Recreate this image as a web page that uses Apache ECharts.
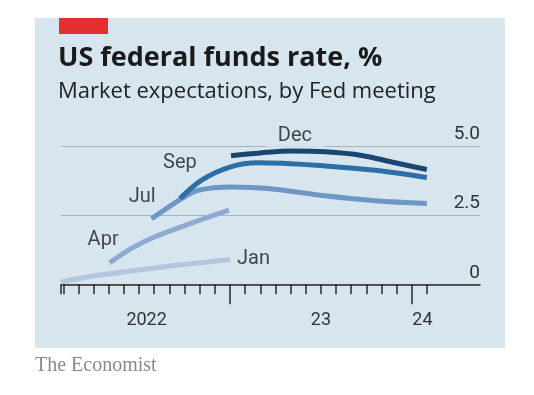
<!DOCTYPE html>
<html>
<head>
<meta charset="utf-8">
<script src="https://cdn.jsdelivr.net/npm/echarts@6/dist/echarts.min.js"></script>
<style>
html,body{margin:0;padding:0;background:#fff;}
#c{width:534px;height:395px;}
</style>
</head>
<body>
<div id="c"></div>
<script>
// x in months since 1 Jan 2022 (12 = Jan 2023, 24 = Jan 2024)
const janX = [0.83, 3, 6, 9, 12];
const janY = [0.08, 0.30, 0.52, 0.72, 0.90];
const aprX = [4.07, 5.5, 7.05, 9.5, 11.93];
const aprY = [0.78, 1.30, 1.72, 2.22, 2.68];
const julX = [6.83, 8.81, 9.91, 12.11, 14.53, 18.27, 21.58, 24.99];
const julY = [2.37, 3.10, 3.40, 3.52, 3.46, 3.20, 3.02, 2.92];
const sepX = [8.7, 10.13, 12, 13.87, 18.27, 21.58, 24.99];
const sepY = [3.10, 3.77, 4.24, 4.39, 4.28, 4.12, 3.86];
const decX = [12.07, 14, 16.08, 18.27, 20.7, 22.68, 24.99];
const decY = [4.65, 4.75, 4.82, 4.79, 4.66, 4.42, 4.15];

const seriesNames = ['Jan', 'Apr', 'Jul', 'Sep', 'Dec'];
const yTicks = [0, 2.5, 5];
const yTickLabels = ['0', '2.5', '5.0'];
const monthTicks = [0.85, 1,2,3,4,5,6,7,8,9,10,11,12,13,14,15,16,17,18,19,20,21,22,23,24,25];
const yearTicks = [12, 24];
const xLabelValues = [6.5, 18, 24.7];
const xLabelTexts = ['2022', '23', '24'];

const panel = '#d6e5ee';
const colors = ['#b4c5de', '#8eaad2', '#6f97c6', '#2d6ea4', '#1a4670'];
const xs = [janX, aprX, julX, sepX, decX];
const ys = [janY, aprY, julY, sepY, decY];
// label anchors in data units
const labelAt = {
  Jan: [13.55, 0.90], Apr: [3.63, 1.60], Jul: [6.21, 3.16], Sep: [8.70, 4.37], Dec: [16.29, 5.35]
};
const FONT = 'Roboto';
const TFONT = 'Open Sans';

const lineSeries = seriesNames.map((n, i) => ({
  type: 'line', name: n, smooth: 0.35, symbol: 'none', z: 3 + i,
  data: xs[i].map((x, k) => [x, ys[i][k]]),
  lineStyle: { color: colors[i], width: 5, cap: 'butt' }
}));

const labelSeries = {
  type: 'scatter', symbolSize: 0, clip: false, z: 2.5, silent: true,
  data: seriesNames.map(n => ({ name: n, value: labelAt[n] })),
  label: {
    show: true, position: 'inside', formatter: p => p.name,
    color: '#1c1c1c', fontFamily: FONT, fontSize: 20
  }
};
labelSeries.data[4].label = { show: true, backgroundColor: panel, padding: [4, 12, 8, 12] };

const option = {
  animation: false,
  backgroundColor: '#fff',
  graphic: [
    { type: 'rect', shape: { x: 35, y: 18, width: 470, height: 330 }, style: { fill: panel }, z: -10 },
    { type: 'rect', shape: { x: 59, y: 18, width: 49, height: 16 }, style: { fill: '#e3302f' }, z: -9 }
  ],
  title: [
    { text: 'US federal funds rate, %', left: 53, top: 40,
      textStyle: { fontFamily: TFONT, fontSize: 27, fontWeight: 'bold', color: '#1a1a1a' } },
    { text: 'Market expectations, by Fed meeting', left: 53, top: 76,
      textStyle: { fontFamily: TFONT, fontSize: 22, fontWeight: 'normal', color: '#222' } },
    { text: 'The Economist', left: 30, top: 351,
      textStyle: { fontFamily: 'Liberation Serif', fontSize: 20, fontWeight: 'normal', color: '#8a8a8a' } }
  ],
  grid: { left: 61, right: 54, top: 146, bottom: 110.7, containLabel: false },
  xAxis: [
    { type: 'value', min: 0.85, max: 28.5,
      axisLine: { show: true, onZero: false, lineStyle: { color: '#2a2a2a', width: 1.5 } },
      axisTick: { show: true, customValues: monthTicks, length: 10, lineStyle: { color: '#2a2a2a', width: 1.5 } },
      axisLabel: { show: true, customValues: xLabelValues, margin: 27,
        formatter: v => { const i = xLabelValues.findIndex(a => Math.abs(a - v) < 1e-6); return i >= 0 ? xLabelTexts[i] : ''; },
        color: '#333', fontFamily: FONT, fontSize: 18 },
      splitLine: { show: false }
    },
    { type: 'value', min: 0.85, max: 28.5, position: 'bottom',
      axisLine: { show: false, onZero: false },
      axisTick: { show: true, customValues: yearTicks, length: 20, lineStyle: { color: '#2a2a2a', width: 1.5 } },
      axisLabel: { show: false },
      splitLine: { show: false }
    }
  ],
  yAxis: {
    type: 'value', min: 0, max: 5, interval: 2.5, position: 'right',
    axisLine: { show: false }, axisTick: { show: false },
    axisLabel: { inside: true, margin: 0, verticalAlign: 'bottom', padding: [0, 0, 2, 0],
      formatter: v => { const i = yTicks.indexOf(v); return i >= 0 ? yTickLabels[i] : ''; },
      color: '#333', fontFamily: FONT, fontSize: 19 },
    splitLine: { show: true, lineStyle: { color: '#a9b3ba', width: 1 } }
  },
  series: [...lineSeries, labelSeries]
};

const chart = echarts.init(document.getElementById('c'), null, { renderer: 'canvas' });
chart.setOption(option);
</script>
</body>
</html>
